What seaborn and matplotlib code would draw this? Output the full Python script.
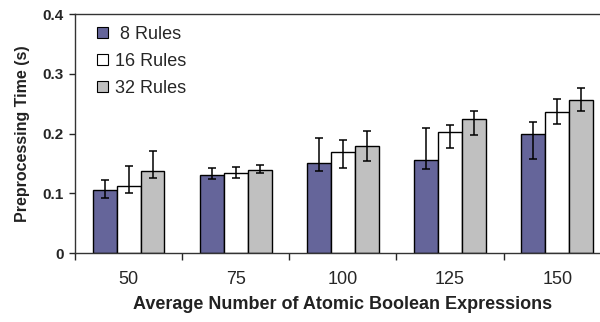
import numpy as np
import pandas as pd
import seaborn as sns
import matplotlib.pyplot as plt

# values
expressions = ["50", "75", "100", "125", "150"]
rules = [" 8 Rules", "16 Rules", "32 Rules"]
time_8 = [0.106, 0.131, 0.151, 0.156, 0.199]
time_16 = [0.112, 0.134, 0.169, 0.203, 0.236]
time_32 = [0.138, 0.139, 0.180, 0.224, 0.256]
low_8 = [0.092, 0.124, 0.138, 0.141, 0.158]
high_8 = [0.122, 0.142, 0.192, 0.210, 0.220]
low_16 = [0.100, 0.126, 0.142, 0.176, 0.216]
high_16 = [0.146, 0.144, 0.190, 0.214, 0.257]
low_32 = [0.126, 0.134, 0.154, 0.198, 0.237]
high_32 = [0.170, 0.147, 0.204, 0.238, 0.276]
colors = ["#65659a", "#ffffff", "#c0c0c0"]

df = pd.DataFrame({
    "Expressions": expressions * 3,
    "Rules": [r for r in rules for _ in expressions],
    "Time": time_8 + time_16 + time_32,
})
lows = [low_8, low_16, low_32]
highs = [high_8, high_16, high_32]

sns.set_style("white")
plt.rcParams["font.family"] = ["Liberation Sans", "DejaVu Sans"]

fig = plt.figure(figsize=(6, 3.22), dpi=100)
ax = fig.add_axes([0.125, 0.214, 0.893, 0.7425])

sns.barplot(data=df, x="Expressions", y="Time", hue="Rules", palette=colors,
            errorbar=None, width=0.67, gap=0, edgecolor="black", linewidth=1,
            saturation=1, ax=ax)

for cont, lo, hi, vals in zip(ax.containers, lows, highs,
                              [time_8, time_16, time_32]):
    xs = [b.get_x() + b.get_width() / 2 for b in cont]
    yerr = [np.array(vals) - np.array(lo), np.array(hi) - np.array(vals)]
    ax.errorbar(xs, vals, yerr=yerr, fmt="none", ecolor="black",
                elinewidth=1.1, capsize=3, capthick=1.1)

ax.set_xlim(-0.5, 4.5)
ax.set_ylim(0, 0.4)
ax.set_yticks([0, 0.1, 0.2, 0.3, 0.4])
ax.set_yticklabels(["0", "0.1", "0.2", "0.3", "0.4"], fontsize=11, fontweight="bold")
ax.set_xticks(range(5))
ax.set_xticklabels(expressions, fontsize=13)
ax.set_xticks(np.arange(-0.5, 5, 1), minor=True)
ax.tick_params(axis="x", which="major", length=0, pad=13)
ax.tick_params(axis="x", which="minor", length=5, width=1, direction="out",
               bottom=True)
ax.tick_params(axis="y", length=4, width=1, direction="out", left=True, pad=4)

ax.set_xlabel("Average Number of Atomic Boolean Expressions", fontsize=13,
              fontweight="bold", color="#222222", labelpad=6)
ax.set_ylabel("Preprocessing Time (s)", fontsize=11.5, fontweight="bold",
              color="#222222", labelpad=9)

for s in ["left", "bottom", "top"]:
    ax.spines[s].set_color("#333333")
    ax.spines[s].set_linewidth(1)
ax.spines["right"].set_visible(False)

leg = ax.legend(loc="upper left", bbox_to_anchor=(0.027, 0.98), frameon=False,
                fontsize=13, handlelength=0.6, handleheight=0.6,
                handletextpad=0.4, labelspacing=0.55, borderaxespad=0)
for h in leg.legend_handles:
    h.set_edgecolor("black")
    h.set_linewidth(0.8)

fig.savefig("out.png", dpi=100)
